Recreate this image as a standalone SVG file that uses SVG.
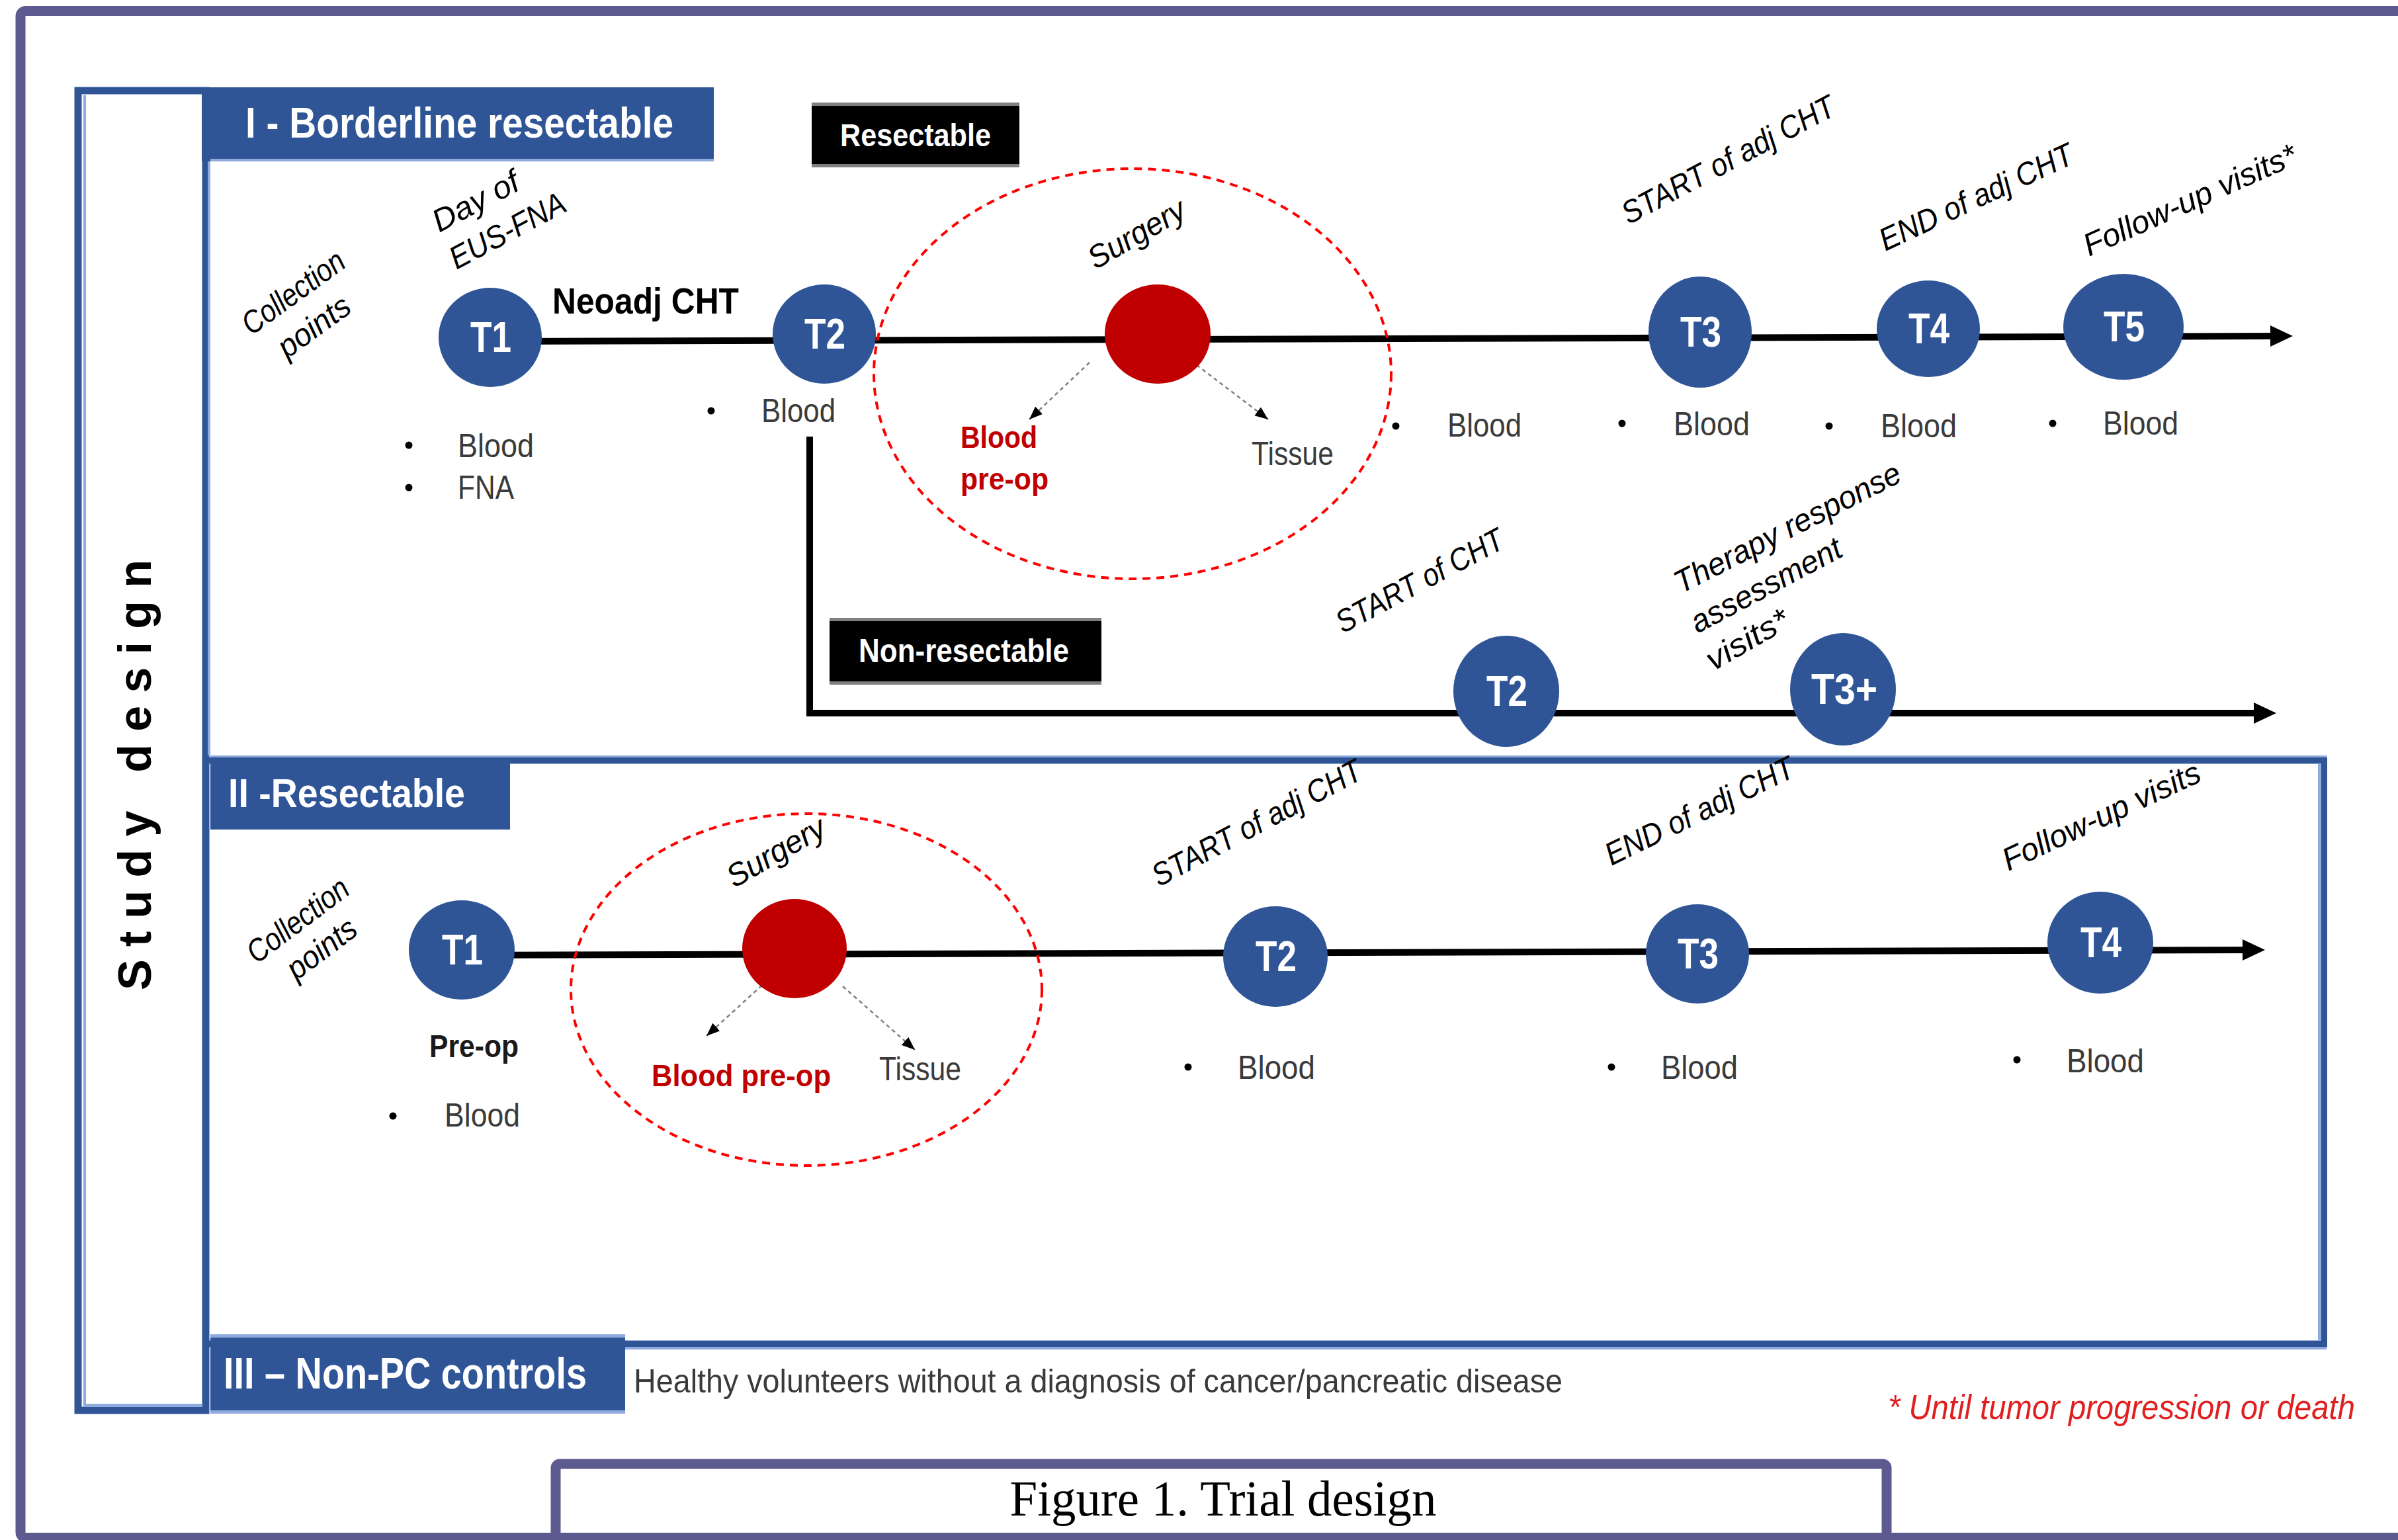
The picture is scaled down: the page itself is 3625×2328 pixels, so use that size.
<svg xmlns="http://www.w3.org/2000/svg" width="3625" height="2328" viewBox="0 0 3625 2328">
<defs>
<style>
text{font-family:"Liberation Sans",Arial,sans-serif}
.lbl{fill:#3a3a3a;font-size:50px}
.rot{fill:#000;font-size:48px;font-style:italic}
.wh{fill:#fff;font-weight:bold}
.tk{fill:#fff;font-weight:bold;font-size:64px;text-anchor:middle}
.red{fill:#C00000;font-weight:bold;font-size:46px}
.tnode{fill:#2F5597}
.surg{fill:#C00000}
.dash{fill:none;stroke:#FF0000;stroke-width:4;stroke-dasharray:12 9}
.tline{fill:none;stroke:#000;stroke-width:10}
.dot{fill:none;stroke:#808080;stroke-width:2.5;stroke-dasharray:6 5}
.blue{fill:#2F5597}
.light{fill:#8FAADC}
.bul{fill:#000}
</style>
<marker id="ah" markerUnits="userSpaceOnUse" markerWidth="36" markerHeight="34" refX="14" refY="16" orient="auto">
<path d="M0,0 L34,16 L0,32 z" fill="#000"/>
</marker>
<marker id="ahs" markerUnits="userSpaceOnUse" markerWidth="22" markerHeight="18" refX="20" refY="8" orient="auto">
<path d="M0,0 L20,8 L0,16 z" fill="#000"/>
</marker>
</defs>
<rect x="0" y="0" width="3625" height="2328" fill="#fff"/>
<!-- outer frame -->
<rect x="31" y="16.5" width="3700" height="2308" rx="8" fill="none" stroke="#5C5A8E" stroke-width="15"/>
<!-- caption box -->
<g id="caption">
<rect x="840" y="2213" width="2012" height="130" rx="6" fill="#fff" stroke="#5C5A8E" stroke-width="15"/>
<rect x="832" y="2317" width="2030" height="15" fill="#5C5A8E"/>
<text x="1849" y="2291" style="font-family:'Liberation Serif','Times New Roman',serif" font-size="76" text-anchor="middle" textLength="645" lengthAdjust="spacingAndGlyphs" fill="#000">Figure 1. Trial design</text>
</g>
<!-- study design box -->
<g id="study-design">
<rect x="118" y="137" width="193" height="1995" fill="#fff" stroke="#2F5597" stroke-width="11"/>
<rect x="126" y="144" width="4" height="1978" class="light"/>
<rect x="126" y="2122" width="180" height="5" class="light"/>
<text transform="translate(228,1497) rotate(-90)" font-size="70" font-weight="bold" fill="#000" textLength="651" lengthAdjust="spacing">Study design</text>
</g>
<!-- section I -->
<g id="section-I-header">
<rect x="305" y="132" width="774" height="112" class="blue"/>
<rect x="318" y="240" width="761" height="4" class="light"/>
<rect x="314" y="244" width="4" height="898" class="light"/>
<text x="371" y="208" class="wh" font-size="64" textLength="647" lengthAdjust="spacingAndGlyphs">I - Borderline resectable</text>
</g>
<!-- section II box -->
<g id="section-II-box">
<rect x="311" y="1149.5" width="3202" height="882" fill="none" stroke="#2F5597" stroke-width="10"/>
<rect x="318" y="1142" width="3199" height="3" class="light"/>
<rect x="3504" y="1154" width="5" height="873" class="light"/>
<rect x="945" y="2036" width="2572" height="4" class="light"/>
</g>
<g id="section-II-header">
<rect x="318" y="1154" width="453" height="100" class="blue"/>
<text x="345" y="1220" class="wh" font-size="61" textLength="358" lengthAdjust="spacingAndGlyphs">II -Resectable</text>
</g>
<g id="section-III-header">
<rect x="318" y="2017" width="627" height="5" class="light"/>
<rect x="318" y="2022" width="627" height="110" class="blue"/>
<rect x="318" y="2132" width="627" height="5" class="light"/>
<text x="338" y="2099" class="wh" font-size="66" textLength="549" lengthAdjust="spacingAndGlyphs">III – Non-PC controls</text>
</g>
<text x="958" y="2105" class="lbl" font-size="49" textLength="1404" lengthAdjust="spacingAndGlyphs">Healthy volunteers without a diagnosis of cancer/pancreatic disease</text>
<text x="2854" y="2145" font-size="52" font-style="italic" fill="#E02020" textLength="706" lengthAdjust="spacingAndGlyphs">* Until tumor progression or death</text>

<!-- connectors -->
<g id="connectors">
<path class="tline" d="M741,516 L3446,508" marker-end="url(#ah)"/>
<path class="tline" d="M1224,660 L1224,1078 L3421,1078" marker-end="url(#ah)"/>
<path class="tline" d="M698,1444 L3404,1436" marker-end="url(#ah)"/>
<path class="dot" d="M1647,548 L1556,634" marker-end="url(#ahs)"/>
<path class="dot" d="M1800,545 L1917,634" marker-end="url(#ahs)"/>
<path class="dot" d="M1160,1482 L1068,1566" marker-end="url(#ahs)"/>
<path class="dot" d="M1274,1491 L1383,1587" marker-end="url(#ahs)"/>
</g>

<!-- labels boxes -->
<g id="resectable-label">
<rect x="1227" y="155" width="314" height="98" fill="#000"/>
<rect x="1227" y="155" width="314" height="5" fill="#7F7F7F"/>
<rect x="1227" y="248" width="314" height="5" fill="#7F7F7F"/>
<text x="1270" y="221" class="wh" font-size="48" textLength="228" lengthAdjust="spacingAndGlyphs">Resectable</text>
</g>
<g id="non-resectable-label">
<rect x="1254" y="934" width="411" height="101" fill="#000"/>
<rect x="1254" y="934" width="411" height="5" fill="#7F7F7F"/>
<rect x="1254" y="1030" width="411" height="5" fill="#7F7F7F"/>
<text x="1298" y="1001" class="wh" font-size="50" textLength="318" lengthAdjust="spacingAndGlyphs">Non-resectable</text>
</g>

<!-- section I nodes -->
<g id="I-collection-points">
<text class="rot" transform="translate(380,508) rotate(-36)" textLength="180" lengthAdjust="spacingAndGlyphs">Collection</text>
<text class="rot" transform="translate(434,543) rotate(-36)" textLength="124" lengthAdjust="spacingAndGlyphs">points</text>
</g>
<g id="I-T1">
<text class="rot" transform="translate(664,352) rotate(-28)" textLength="142" lengthAdjust="spacingAndGlyphs">Day  of</text>
<text class="rot" transform="translate(690,408) rotate(-28)" textLength="192" lengthAdjust="spacingAndGlyphs">EUS-FNA</text>
<ellipse class="tnode" cx="741" cy="510" rx="78" ry="75"/>
<text class="tk" x="742" y="532" textLength="62" lengthAdjust="spacingAndGlyphs">T1</text>
<circle class="bul" cx="618" cy="673" r="5.5"/>
<text class="lbl" x="692" y="691" textLength="115" lengthAdjust="spacingAndGlyphs">Blood</text>
<circle class="bul" cx="618" cy="737" r="5.5"/>
<text class="lbl" x="692" y="754" textLength="85" lengthAdjust="spacingAndGlyphs">FNA</text>
</g>
<text x="835" y="474" font-size="55" font-weight="bold" fill="#000" textLength="282" lengthAdjust="spacingAndGlyphs">Neoadj CHT</text>
<g id="I-T2">
<ellipse class="tnode" cx="1246" cy="505" rx="78" ry="75"/>
<text class="tk" x="1247" y="527" textLength="62" lengthAdjust="spacingAndGlyphs">T2</text>
<circle class="bul" cx="1075" cy="621" r="5.5"/>
<text class="lbl" x="1151" y="638" textLength="112" lengthAdjust="spacingAndGlyphs">Blood</text>
</g>
<g id="I-surgery">
<ellipse class="dash" cx="1712" cy="565" rx="391" ry="310"/>
<text class="rot" transform="translate(1656,408) rotate(-30)" textLength="162" lengthAdjust="spacingAndGlyphs">Surgery</text>
<ellipse class="surg" cx="1750" cy="505" rx="80" ry="75"/>
<text class="red" x="1452" y="677" textLength="116" lengthAdjust="spacingAndGlyphs">Blood</text>
<text class="red" x="1452" y="740" textLength="133" lengthAdjust="spacingAndGlyphs">pre-op</text>
<text class="lbl" x="1892" y="703" textLength="124" lengthAdjust="spacingAndGlyphs">Tissue</text>
<circle class="bul" cx="2110" cy="644" r="5.5"/>
<text class="lbl" x="2188" y="660" textLength="112" lengthAdjust="spacingAndGlyphs">Blood</text>
</g>
<g id="I-T3">
<text class="rot" transform="translate(2462,340) rotate(-28)" textLength="358" lengthAdjust="spacingAndGlyphs">START of adj CHT</text>
<ellipse class="tnode" cx="2570" cy="502" rx="78" ry="84"/>
<text class="tk" x="2571" y="524" textLength="62" lengthAdjust="spacingAndGlyphs">T3</text>
<circle class="bul" cx="2452" cy="640" r="5.5"/>
<text class="lbl" x="2530" y="658" textLength="115" lengthAdjust="spacingAndGlyphs">Blood</text>
</g>
<g id="I-T4">
<text class="rot" transform="translate(2850,380) rotate(-25)" textLength="318" lengthAdjust="spacingAndGlyphs">END of adj CHT</text>
<ellipse class="tnode" cx="2915" cy="497" rx="78" ry="73"/>
<text class="tk" x="2916" y="519" textLength="62" lengthAdjust="spacingAndGlyphs">T4</text>
<circle class="bul" cx="2765" cy="644" r="5.5"/>
<text class="lbl" x="2843" y="661" textLength="115" lengthAdjust="spacingAndGlyphs">Blood</text>
</g>
<g id="I-T5">
<text class="rot" transform="translate(3158,388) rotate(-24)" textLength="348" lengthAdjust="spacingAndGlyphs">Follow-up visits*</text>
<ellipse class="tnode" cx="3210" cy="494" rx="91" ry="80"/>
<text class="tk" x="3211" y="516" textLength="62" lengthAdjust="spacingAndGlyphs">T5</text>
<circle class="bul" cx="3103" cy="640" r="5.5"/>
<text class="lbl" x="3179" y="657" textLength="114" lengthAdjust="spacingAndGlyphs">Blood</text>
</g>
<!-- non-resectable nodes -->
<g id="NR-T2">
<text class="rot" transform="translate(2030,958) rotate(-28)" textLength="280" lengthAdjust="spacingAndGlyphs">START of CHT</text>
<ellipse class="tnode" cx="2277" cy="1045" rx="80" ry="84"/>
<text class="tk" x="2278" y="1067" textLength="62" lengthAdjust="spacingAndGlyphs">T2</text>
</g>
<g id="NR-T3plus">
<text class="rot" transform="translate(2541,898) rotate(-27)" textLength="378" lengthAdjust="spacingAndGlyphs">Therapy response</text>
<text class="rot" transform="translate(2566,958) rotate(-28)" textLength="252" lengthAdjust="spacingAndGlyphs">assessment</text>
<text class="rot" transform="translate(2590,1015) rotate(-30)" textLength="137" lengthAdjust="spacingAndGlyphs">visits*</text>
<ellipse class="tnode" cx="2786" cy="1042" rx="80" ry="85"/>
<text class="tk" x="2788" y="1064" textLength="100" lengthAdjust="spacingAndGlyphs">T3+</text>
</g>
<!-- section II nodes -->
<g id="II-collection-points">
<text class="rot" transform="translate(388,1458) rotate(-37)" textLength="180" lengthAdjust="spacingAndGlyphs">Collection</text>
<text class="rot" transform="translate(448,1483) rotate(-37)" textLength="120" lengthAdjust="spacingAndGlyphs">points</text>
</g>
<g id="II-T1">
<ellipse class="tnode" cx="698" cy="1436" rx="80" ry="75"/>
<text class="tk" x="699" y="1458" textLength="62" lengthAdjust="spacingAndGlyphs">T1</text>
<text x="649" y="1598" font-size="49" font-weight="bold" fill="#1a1a1a" textLength="135" lengthAdjust="spacingAndGlyphs">Pre-op</text>
<circle class="bul" cx="594" cy="1687" r="5.5"/>
<text class="lbl" x="672" y="1703" textLength="114" lengthAdjust="spacingAndGlyphs">Blood</text>
</g>
<g id="II-surgery">
<ellipse class="dash" cx="1219" cy="1496" rx="356" ry="266"/>
<text class="rot" transform="translate(1110,1343) rotate(-30)" textLength="164" lengthAdjust="spacingAndGlyphs">Surgery</text>
<ellipse class="surg" cx="1201" cy="1434" rx="79" ry="75"/>
<text class="red" x="985" y="1642" font-size="48" textLength="271" lengthAdjust="spacingAndGlyphs">Blood pre-op</text>
<text class="lbl" x="1329" y="1633" textLength="124" lengthAdjust="spacingAndGlyphs">Tissue</text>
</g>
<g id="II-T2">
<text class="rot" transform="translate(1752,1341) rotate(-28)" textLength="352" lengthAdjust="spacingAndGlyphs">START of adj CHT</text>
<ellipse class="tnode" cx="1928" cy="1446" rx="79" ry="76"/>
<text class="tk" x="1929" y="1468" textLength="62" lengthAdjust="spacingAndGlyphs">T2</text>
<circle class="bul" cx="1796" cy="1613" r="5.5"/>
<text class="lbl" x="1871" y="1631" textLength="117" lengthAdjust="spacingAndGlyphs">Blood</text>
</g>
<g id="II-T3">
<text class="rot" transform="translate(2436,1309) rotate(-26)" textLength="312" lengthAdjust="spacingAndGlyphs">END of adj CHT</text>
<ellipse class="tnode" cx="2566" cy="1442" rx="78" ry="75"/>
<text class="tk" x="2567" y="1464" textLength="62" lengthAdjust="spacingAndGlyphs">T3</text>
<circle class="bul" cx="2436" cy="1613" r="5.5"/>
<text class="lbl" x="2511" y="1631" textLength="116" lengthAdjust="spacingAndGlyphs">Blood</text>
</g>
<g id="II-T4">
<text class="rot" transform="translate(3036,1317) rotate(-25)" textLength="325" lengthAdjust="spacingAndGlyphs">Follow-up visits</text>
<ellipse class="tnode" cx="3175" cy="1425" rx="80" ry="77"/>
<text class="tk" x="3176" y="1447" textLength="62" lengthAdjust="spacingAndGlyphs">T4</text>
<circle class="bul" cx="3049" cy="1602" r="5.5"/>
<text class="lbl" x="3124" y="1621" textLength="117" lengthAdjust="spacingAndGlyphs">Blood</text>
</g>
</svg>
